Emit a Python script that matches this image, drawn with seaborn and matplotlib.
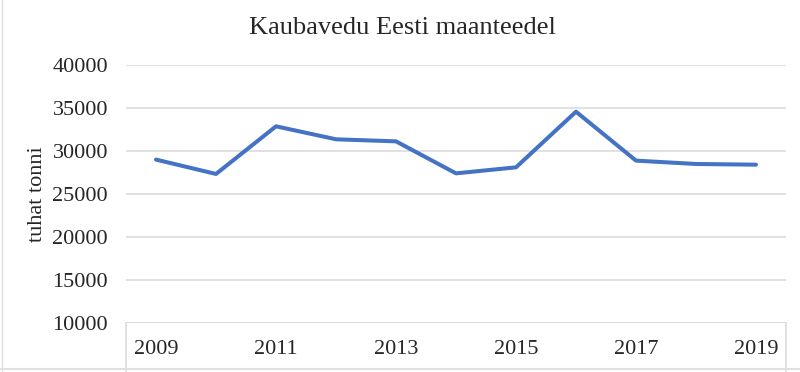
import matplotlib
matplotlib.use("Agg")
import matplotlib.pyplot as plt
import seaborn as sns
import pandas as pd

# Data
years = [2009, 2010, 2011, 2012, 2013, 2014, 2015, 2016, 2017, 2018, 2019]
tonnes = [29000, 27330, 32870, 31360, 31120, 27400, 28100, 34570, 28880, 28490, 28410]
y_ticks = [10000, 15000, 20000, 25000, 30000, 35000, 40000]
x_labels = [2009, 2011, 2013, 2015, 2017, 2019]

df = pd.DataFrame({"Aasta": years, "Kaubavedu": tonnes})

sns.set_style("white")
plt.rcParams["font.family"] = ["Liberation Serif", "DejaVu Serif"]

fig = plt.figure(figsize=(8, 3.72), dpi=100)
ax = fig.add_axes([0.1575, 0.1317, 0.825, 0.6936])

sns.lineplot(data=df, x="Aasta", y="Kaubavedu", color="#4472C4", linewidth=2.9, ax=ax)

ax.set_xlim(2008.5, 2019.5)
ax.set_ylim(10000, 40000)
ax.set_yticks(y_ticks)
ax.set_yticklabels([str(v) for v in y_ticks], fontsize=16)
ax.set_xticks(x_labels)
ax.set_xticklabels([str(v) for v in x_labels], fontsize=16)
ax.tick_params(axis="y", length=0, pad=13)
ax.tick_params(axis="x", length=0, pad=12)

ax.grid(axis="y", color="#d9d9d9", linewidth=1.1)
ax.set_axisbelow(True)
for side in ["top", "right", "left", "bottom"]:
    ax.spines[side].set_visible(False)

# box lines below the category axis
ax.axhline(10000, color="#d9d9d9", linewidth=1.1)
for xv in [2008.5, 2019.5]:
    ax.plot([xv, xv], [0, -0.2], color="#d9d9d9", linewidth=1.1,
            transform=ax.get_xaxis_transform(), clip_on=False)

ax.set_xlabel("")
ax.set_ylabel("tuhat tonni", fontsize=16, labelpad=4)
fig.text(0.503, 0.925, "Kaubavedu Eesti maanteedel", ha="center", va="center", fontsize=19)

# faint frame bits from the surrounding sheet
fig.add_artist(plt.Line2D([0.003, 0.003], [0.0, 1.0], color="#e0e0e0", linewidth=1))
fig.add_artist(plt.Line2D([0.0, 1.0], [0.008, 0.008], color="#e0e0e0", linewidth=1.5))

fig.savefig("out.png", dpi=100)
